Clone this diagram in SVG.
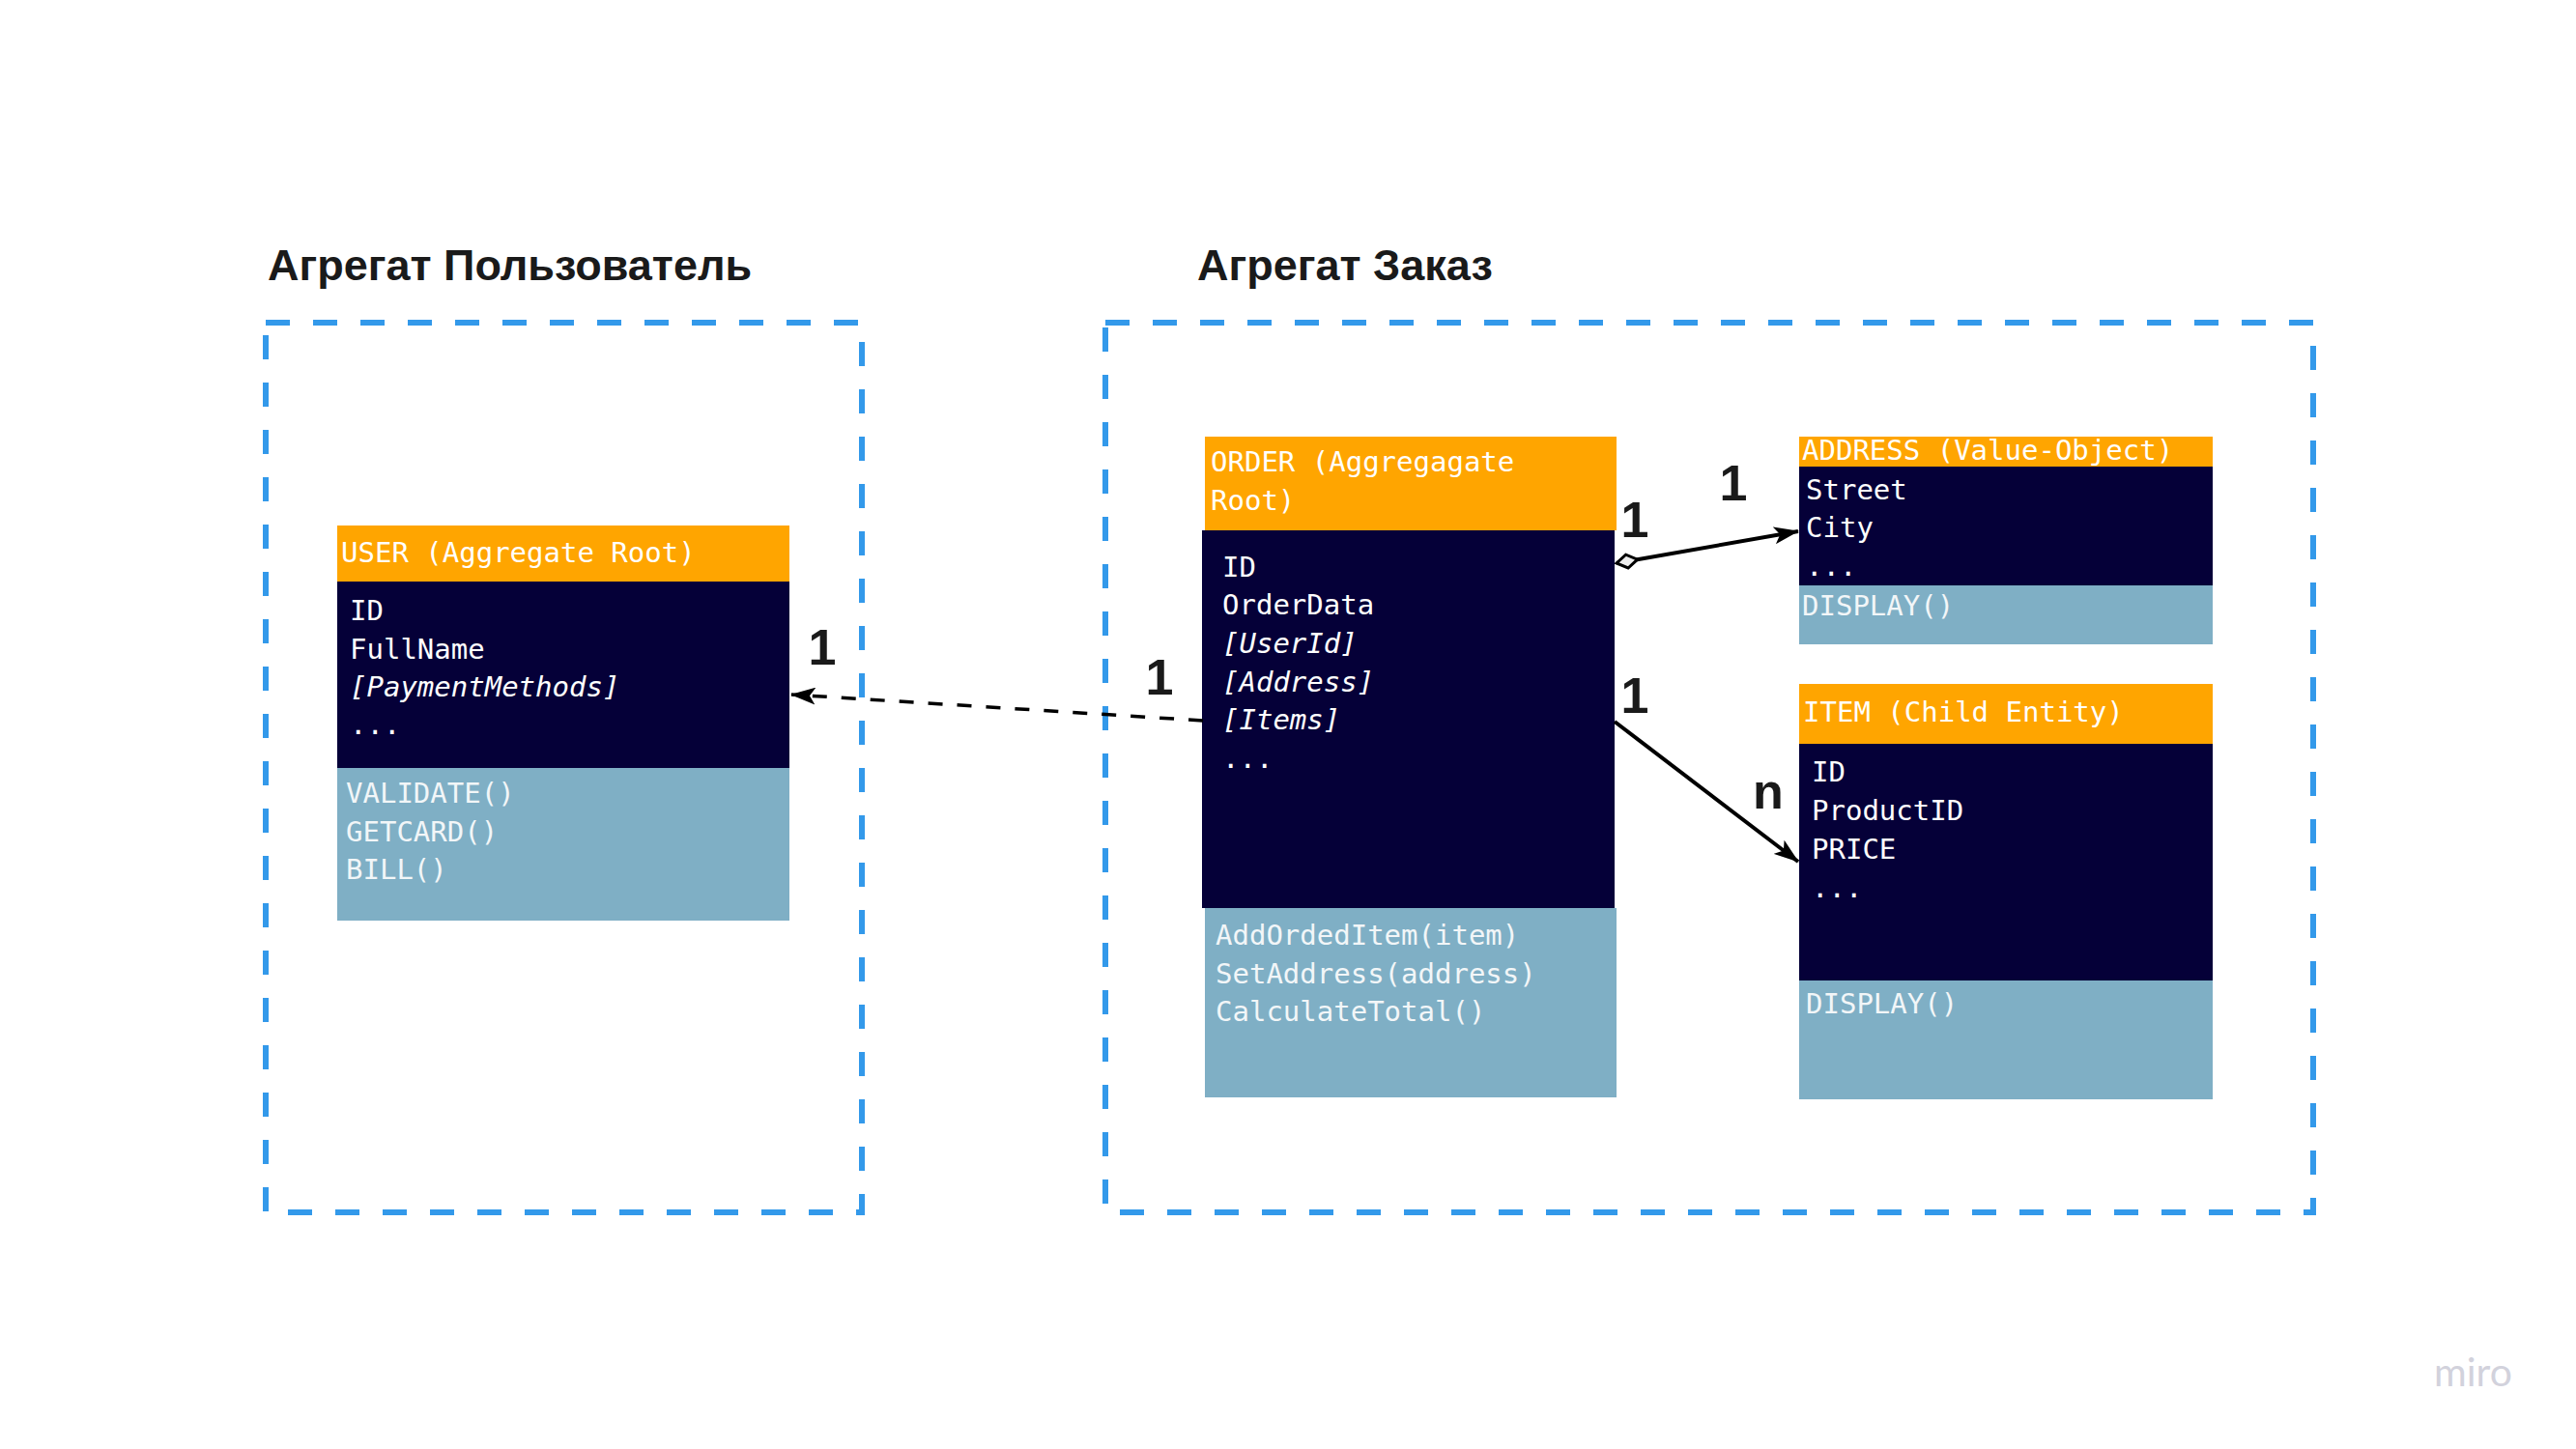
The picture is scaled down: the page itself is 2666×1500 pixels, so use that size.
<svg xmlns="http://www.w3.org/2000/svg" width="2666" height="1500" viewBox="0 0 2666 1500">
<style>
.title{font-family:"Liberation Sans",Arial,sans-serif;font-weight:bold;font-size:45px;fill:#1a1a1a}
.frame{fill:none;stroke:#3399ea;stroke-width:6;stroke-dasharray:25 24}
.hdr{fill:#ffa500}
.body{fill:#050038}
.meth{fill:#7fafc5}
.t{font-family:"DejaVu Sans Mono","Liberation Mono",monospace;font-size:29px;fill:#ffffff}
.tm{font-family:"DejaVu Sans Mono","Liberation Mono",monospace;font-size:29px;fill:#f2f6f8}
.it{font-style:italic}
.lbl{font-family:"Liberation Sans",Arial,sans-serif;font-weight:bold;font-size:52px;fill:#1a1a1a;text-anchor:middle}
.conn{fill:none;stroke:#000;stroke-width:4}
.dash{stroke-dasharray:15 15;stroke-width:3.5}
</style>
<defs>
<marker id="arrow" markerUnits="userSpaceOnUse" viewBox="0 0 26 18" refX="25" refY="9" markerWidth="26" markerHeight="18" orient="auto">
<path d="M0,0 L26,9 L0,18 L6,9 Z" fill="#000"/>
</marker>
<marker id="diamond" markerUnits="userSpaceOnUse" viewBox="-2 -2 27 18" refX="0" refY="7" markerWidth="27" markerHeight="18" orient="auto">
<path d="M0,7 L11,0 L22,7 L11,14 Z" fill="#eeeeee" stroke="#000" stroke-width="3" stroke-linejoin="miter"/>
</marker>
</defs>
<rect width="2666" height="1500" fill="#ffffff"/>

<g id="aggregate-user">
<text class="title" x="277" y="290">Агрегат Пользователь</text>
<rect class="frame" x="275" y="334" width="617" height="921"/>
</g>
<g id="aggregate-order">
<text class="title" x="1239" y="290">Агрегат Заказ</text>
<rect class="frame" x="1144" y="334" width="1250" height="921"/>
</g>

<g id="user">
<rect class="hdr" x="349" y="544" width="468" height="58"/>
<rect class="body" x="349" y="602" width="468" height="193"/>
<rect class="meth" x="349" y="795" width="468" height="158"/>
<text class="t" x="353" y="582">USER (Aggregate Root)</text>
<text class="t" x="362" y="642">ID</text>
<text class="t" x="362" y="682">FullName</text>
<text class="t it" x="362" y="721">[PaymentMethods]</text>
<text class="t" x="362" y="760">...</text>
<text class="tm" x="358" y="831">VALIDATE()</text>
<text class="tm" x="358" y="871">GETCARD()</text>
<text class="tm" x="358" y="910">BILL()</text>
</g>

<g id="order">
<rect class="hdr" x="1247" y="452" width="426" height="97"/>
<rect class="body" x="1244" y="549" width="427" height="391"/>
<rect class="meth" x="1247" y="940" width="426" height="196"/>
<text class="t" x="1253" y="488">ORDER (Aggregagate</text>
<text class="t" x="1253" y="528">Root)</text>
<text class="t" x="1265" y="597">ID</text>
<text class="t" x="1265" y="636">OrderData</text>
<text class="t it" x="1265" y="676">[UserId]</text>
<text class="t it" x="1265" y="716">[Address]</text>
<text class="t it" x="1265" y="755">[Items]</text>
<text class="t" x="1265" y="795">...</text>
<text class="tm" x="1258" y="978">AddOrdedItem(item)</text>
<text class="tm" x="1258" y="1018">SetAddress(address)</text>
<text class="tm" x="1258" y="1057">CalculateTotal()</text>
</g>

<g id="address">
<rect class="hdr" x="1862" y="452" width="428" height="31"/>
<rect class="body" x="1862" y="483" width="428" height="123"/>
<rect class="meth" x="1862" y="606" width="428" height="61"/>
<text class="t" x="1865" y="476">ADDRESS (Value-Object)</text>
<text class="t" x="1869" y="517">Street</text>
<text class="t" x="1869" y="556">City</text>
<text class="t" x="1869" y="596">...</text>
<text class="tm" x="1865" y="637">DISPLAY()</text>
</g>

<g id="item">
<rect class="hdr" x="1862" y="708" width="428" height="62"/>
<rect class="body" x="1862" y="770" width="428" height="245"/>
<rect class="meth" x="1862" y="1015" width="428" height="123"/>
<text class="t" x="1866" y="747">ITEM (Child Entity)</text>
<text class="t" x="1875" y="809">ID</text>
<text class="t" x="1875" y="849">ProductID</text>
<text class="t" x="1875" y="889">PRICE</text>
<text class="t" x="1875" y="929">...</text>
<text class="tm" x="1869" y="1049">DISPLAY()</text>
</g>

<g id="connectors">
<line class="conn dash" x1="1245" y1="746" x2="819" y2="719" marker-end="url(#arrow)"/>
<line class="conn" x1="1673" y1="583" x2="1861" y2="550" marker-start="url(#diamond)" marker-end="url(#arrow)"/>
<line class="conn" x1="1671" y1="747" x2="1861" y2="892" marker-end="url(#arrow)"/>
<text class="lbl" x="851" y="688">1</text>
<text class="lbl" x="1200" y="719">1</text>
<text class="lbl" x="1692" y="556">1</text>
<text class="lbl" x="1794" y="518">1</text>
<text class="lbl" x="1692" y="738">1</text>
<text class="lbl" x="1830" y="837">n</text>
</g>

<text x="2519" y="1435" font-family="Lato,'Open Sans',sans-serif" font-size="41" fill="#d2d2dc">miro</text>
</svg>
